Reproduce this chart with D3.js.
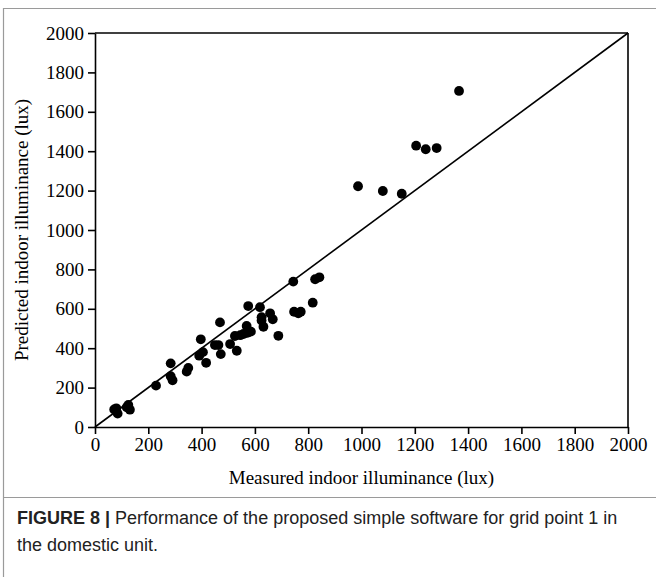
<!DOCTYPE html>
<html><head><meta charset="utf-8">
<script src="https://cdn.jsdelivr.net/npm/d3@7"></script>
<style>body{margin:0;background:#fff}svg{display:block}</style>
</head><body>
<svg id="c" width="656" height="577"></svg>
<script>
const measured = [72,80,85,119,125,131,229,284,284,291,344,350,391,397,405,417,450,463,469,472,507,525,532,545,557,569,575,572,585,619,625,625,632,657,667,688,744,747,763,772,817,826,842,987,1080,1151,1205,1241,1282,1366];
const predicted = [89,95,68,100,112,88,210,323,258,237,281,300,362,445,380,326,416,416,531,370,421,462,387,466,472,513,614,478,484,608,557,540,509,577,547,463,738,585,577,585,631,750,760,1222,1198,1184,1428,1410,1416,1706];
const xTicks = [0,200,400,600,800,1000,1200,1400,1600,1800,2000];
const yTicks = [0,200,400,600,800,1000,1200,1400,1600,1800,2000];
const xTitle = "Measured indoor illuminance (lux)";
const yTitle = "Predicted indoor illuminance (lux)";

const svg = d3.select("#c");
const L=95,R=628,T=33,B=427;
const x = d3.scaleLinear().domain([0,2000]).range([L,R]);
const y = d3.scaleLinear().domain([0,2000]).range([B,T]);

// frame
svg.append("path").attr("d","M3.5,577 L3.5,8.5 L656,8.5").attr("fill","none").attr("stroke","#9a9a9a").attr("stroke-width",1.2);
svg.append("line").attr("x1",3).attr("x2",656).attr("y1",497.5).attr("y2",497.5).attr("stroke","#9a9a9a").attr("stroke-width",1);

const serif = "'Liberation Serif','Times New Roman',serif";
const xa = svg.append("g").attr("transform",`translate(0,${B})`)
  .call(d3.axisBottom(x).tickValues(xTicks).tickSize(7).tickSizeOuter(0).tickFormat(d3.format("d")));
const ya = svg.append("g").attr("transform",`translate(${L},0)`)
  .call(d3.axisLeft(y).tickValues(yTicks).tickSize(7).tickSizeOuter(0).tickFormat(d3.format("d")));
[xa,ya].forEach(a=>{
  a.selectAll("path,line").attr("stroke","#000").attr("stroke-width",1.6);
  a.selectAll("text").attr("font-family",serif).attr("font-size",19).attr("fill","#000");
});
xa.selectAll("text").attr("dy","0.72em");
ya.selectAll("text").attr("dx","-0.05em");
// top and right border
svg.append("line").attr("x1",L).attr("x2",R).attr("y1",T).attr("y2",T).attr("stroke","#000").attr("stroke-width",1.6);
svg.append("line").attr("x1",R).attr("x2",R).attr("y1",T).attr("y2",B).attr("stroke","#000").attr("stroke-width",1.6);
// 1:1 line
svg.append("line").attr("x1",x(0)).attr("y1",y(0)).attr("x2",x(2000)).attr("y2",y(2000)).attr("stroke","#000").attr("stroke-width",1.6);

svg.append("g").selectAll("circle").data(measured.map((m,i)=>[m,predicted[i]])).join("circle")
  .attr("cx",d=>x(d[0])).attr("cy",d=>y(d[1])).attr("r",4.9).attr("fill","#000");

svg.append("text").attr("x",(L+R)/2).attr("y",484).attr("text-anchor","middle")
  .attr("font-family",serif).attr("font-size",19).text(xTitle);
svg.append("text").attr("transform",`translate(28,${(T+B)/2}) rotate(-90)`).attr("text-anchor","middle")
  .attr("font-family",serif).attr("font-size",19).text(yTitle);

const sans = "'Liberation Sans',Arial,sans-serif";
const cap = svg.append("text").attr("x",17).attr("y",524).attr("font-family",sans).attr("font-size",18).attr("fill","#222");
cap.append("tspan").attr("font-weight","bold").text("FIGURE 8 | ");
cap.append("tspan").text("Performance of the proposed simple software for grid point 1 in");
svg.append("text").attr("x",17).attr("y",551).attr("font-family",sans).attr("font-size",18).attr("fill","#222").text("the domestic unit.");
</script>
</body></html>
